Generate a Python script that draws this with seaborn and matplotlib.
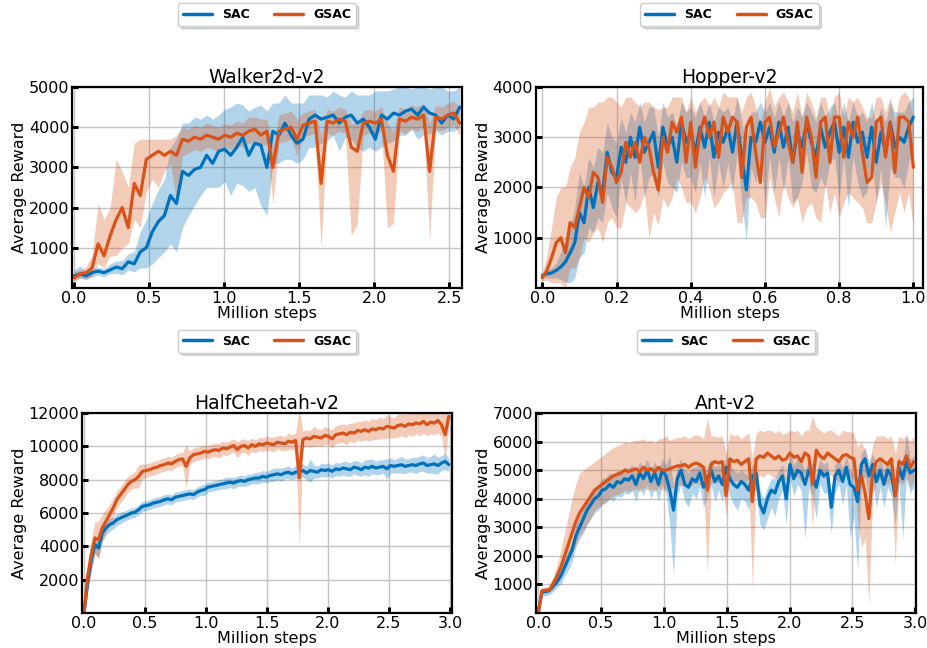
import numpy as np
import matplotlib
matplotlib.use("Agg")
import matplotlib.pyplot as plt
import seaborn as sns

# ============================================================================
# DATA
#   *_MEAN : average reward, *_DOWN / *_UP : band below / above the mean
# ============================================================================

ALGOS = ["SAC", "GSAC"]
TASKS = ["Walker2d-v2", "Hopper-v2", "HalfCheetah-v2", "Ant-v2"]

# --- Walker2d (0 .. 2.57 M steps) ---
WALKER_STEPS_MAX = 2.57
WALKER_SAC_MEAN = [
    300, 350, 300, 380, 420, 380, 450, 520, 480, 650, 600, 900, 1000,
    1400, 1650, 1800, 2300, 2100, 2900, 2800, 2950, 3000, 3300, 3100, 3400, 3450,
    3300, 3500, 3750, 3300, 3600, 3550, 3000, 3900, 3800, 4100, 3800, 3600, 3700,
    4200, 4300, 4200, 4250, 4300, 4100, 4250, 4300, 4100, 4200, 4000, 3700, 4300,
    4200, 4350, 4300, 4400, 4450, 4300, 4500, 4350, 4300, 4100, 4300, 4200, 4500,
]
WALKER_SAC_DOWN = [
    100, 100, 100, 100, 100, 100, 100, 150, 150, 200, 200, 400, 500,
    800, 900, 900, 1200, 1200, 1400, 1000, 900, 700, 800, 600, 900, 800,
    1000, 900, 1200, 900, 1100, 1500, 1200, 800, 700, 900, 600, 500, 500,
    700, 800, 600, 600, 500, 700, 500, 600, 600, 800, 500, 300, 800,
    600, 700, 500, 600, 500, 600, 700, 500, 400, 300, 400, 300, 500,
]
WALKER_SAC_UP = [
    150, 200, 100, 100, 100, 100, 150, 150, 200, 200, 300, 500, 700,
    700, 800, 900, 1200, 1600, 1200, 1300, 1300, 1200, 1000, 1100, 900, 1000,
    1200, 1100, 800, 1100, 900, 1000, 1400, 700, 800, 700, 800, 1000, 900,
    600, 500, 600, 500, 600, 700, 500, 600, 700, 600, 800, 1200, 600,
    700, 600, 700, 600, 500, 700, 500, 600, 700, 900, 600, 700, 500,
]
WALKER_GSAC_MEAN = [
    250, 350, 380, 500, 1100, 800, 1300, 1700, 2000, 1500, 2600, 2300, 3200,
    3300, 3400, 3300, 3400, 3300, 3700, 3650, 3750, 3700, 3800, 3750, 3700, 3800,
    3750, 3850, 3800, 3900, 3950, 3800, 3900, 3000, 3900, 3950, 4000, 3700, 4050,
    4100, 4150, 2600, 4150, 4100, 4200, 4150, 3500, 3400, 4100, 4150, 4100, 4200,
    3300, 2900, 4200, 4150, 4250, 4200, 4300, 2900, 4250, 4200, 4300, 4350, 4100,
]
WALKER_GSAC_DOWN = [
    100, 100, 150, 200, 500, 300, 500, 900, 1000, 400, 900, 800, 800,
    600, 900, 400, 300, 1100, 400, 300, 300, 300, 300, 300, 300, 300,
    300, 300, 300, 300, 300, 300, 300, 900, 300, 300, 300, 400, 300,
    300, 300, 1600, 300, 300, 300, 300, 2200, 1800, 300, 300, 300, 300,
    1800, 1300, 300, 300, 300, 300, 300, 1700, 300, 300, 300, 300, 300,
]
WALKER_GSAC_UP = [
    150, 100, 150, 300, 1000, 900, 700, 1500, 900, 1000, 1000, 1400, 500,
    400, 300, 400, 300, 500, 300, 300, 300, 300, 300, 300, 300, 300,
    300, 300, 300, 350, 300, 400, 300, 500, 400, 400, 400, 500, 300,
    300, 300, 1200, 300, 300, 300, 300, 600, 700, 300, 300, 300, 300,
    800, 1000, 300, 300, 300, 300, 300, 1200, 300, 300, 300, 300, 400,
]

# --- Hopper (0 .. 1.0 M steps) ---
HOPPER_STEPS_MAX = 1.0
HOPPER_SAC_MEAN = [
    250, 280, 300, 350, 420, 520, 700, 900, 1500,
    1300, 2000, 1600, 2100, 1900, 2700, 2300, 2200, 2800,
    2500, 3000, 2600, 3200, 2700, 2900, 3100, 2400, 3200,
    2800, 3000, 2500, 3300, 2900, 3100, 2700, 3200, 2800,
    3300, 2600, 3100, 2900, 3200, 2700, 3300, 2600, 1950,
    3000, 2900, 3300, 2900, 3200, 2700, 3300, 2800, 3200,
    2500, 3100, 2800, 3300, 2900, 2600, 3200, 2800, 3100,
    3300, 2700, 3200, 2600, 3300, 2900, 3100, 2600, 3200,
    2500, 3100, 2700, 3300, 2800, 3000, 2900, 3200, 3400,
]
HOPPER_SAC_DOWN = [
    50, 80, 100, 150, 250, 400, 600, 700, 900,
    600, 800, 500, 700, 600, 800, 700, 800, 600,
    800, 700, 900, 600, 900, 700, 800, 600, 700,
    700, 1000, 600, 800, 700, 900, 800, 700, 1000,
    700, 800, 600, 900, 700, 800, 600, 900, 1000,
    600, 800, 700, 1200, 600, 800, 700, 900, 600,
    800, 1300, 700, 600, 900, 700, 1000, 800, 600,
    700, 900, 600, 1000, 700, 800, 1300, 700, 600,
    800, 700, 1500, 900, 600, 800, 900, 700, 600,
]
HOPPER_SAC_UP = [
    50, 80, 100, 150, 300, 400, 500, 700, 800,
    700, 600, 800, 700, 800, 600, 700, 700, 600,
    600, 500, 700, 500, 600, 700, 500, 600, 500,
    600, 500, 700, 400, 600, 500, 700, 500, 600,
    400, 700, 500, 600, 400, 600, 500, 700, 900,
    500, 600, 400, 600, 500, 700, 400, 600, 500,
    800, 500, 600, 400, 600, 700, 500, 600, 500,
    400, 600, 500, 700, 400, 500, 400, 700, 500,
    700, 500, 600, 400, 700, 500, 600, 500, 400,
]
HOPPER_GSAC_MEAN = [
    200, 350, 600, 900, 1000, 700, 1300, 1200, 1600,
    2000, 1800, 2300, 2200, 1700, 2600, 2400, 2100, 2300,
    2900, 2600, 2900, 2500, 3000, 2800, 2300, 1950, 3000,
    2700, 3300, 3100, 3400, 2500, 3300, 2400, 3100, 3400,
    3000, 3300, 2600, 3400, 3100, 3400, 3300, 2200, 3200,
    3400, 2700, 2100, 3300, 3400, 2800, 3100, 3400, 2900,
    2500, 3300, 2300, 3400, 3000, 2200, 3300, 3400, 2500,
    3400, 3400, 2600, 3300, 3000, 3400, 2700, 2100, 2200,
    3300, 3400, 2600, 3300, 2300, 3400, 3400, 3300, 2400,
]
HOPPER_GSAC_DOWN = [
    50, 200, 500, 800, 900, 700, 900, 800, 1000,
    1000, 900, 1200, 1000, 800, 1300, 1000, 900, 1100,
    1200, 1000, 1400, 900, 1100, 1800, 800, 700, 1200,
    1100, 1500, 900, 1400, 800, 1600, 900, 1300, 1200,
    1000, 1700, 900, 1500, 1100, 1300, 2000, 900, 1400,
    1600, 1000, 700, 1900, 1200, 1000, 1700, 1300, 1100,
    900, 1500, 1000, 1800, 1300, 800, 2000, 1300, 1000,
    1500, 2000, 900, 1400, 1200, 1700, 1100, 800, 900,
    1600, 1300, 900, 2200, 800, 1500, 1900, 1400, 1200,
]
HOPPER_GSAC_UP = [
    100, 300, 600, 900, 1000, 1300, 1100, 1400, 1500,
    1300, 1800, 1300, 1500, 2000, 1200, 1400, 1600, 1300,
    900, 1200, 800, 1100, 700, 900, 1300, 1600, 600,
    900, 500, 700, 400, 1000, 500, 1100, 600, 400,
    600, 500, 1000, 500, 700, 400, 500, 1300, 600,
    500, 900, 1200, 400, 600, 800, 700, 500, 800,
    1000, 600, 1100, 500, 700, 1200, 500, 400, 900,
    400, 500, 800, 500, 700, 400, 900, 1300, 1200,
    500, 400, 900, 500, 1000, 400, 500, 500, 1000,
]

# --- HalfCheetah (0 .. 3.0 M steps), symmetric band ---
CHEETAH_STEPS_MAX = 2.99
CHEETAH_SAC_MEAN = [
    0, 1800, 3200, 4100, 3900, 4800, 5100, 5300, 5400, 5600,
    5700, 5800, 5900, 6000, 6050, 6200, 6400, 6450, 6500, 6600,
    6650, 6700, 6800, 6850, 6800, 6950, 7000, 7050, 7100, 7150,
    7100, 7250, 7350, 7400, 7550, 7600, 7650, 7700, 7750, 7800,
    7850, 7800, 7900, 7950, 7900, 8000, 8050, 8100, 8100, 8200,
    8150, 8250, 8300, 8350, 8300, 8400, 8450, 8350, 8450, 8500,
    8550, 8400, 8550, 8500, 8450, 8600, 8550, 8600, 8500, 8650,
    8600, 8700, 8650, 8600, 8750, 8700, 8600, 8750, 8700, 8800,
    8700, 8750, 8800, 8650, 8850, 8800, 8850, 8900, 8800, 8850,
    8900, 8850, 8950, 9000, 8850, 8900, 8950, 8850, 9000, 9100,
    8900,
]
CHEETAH_SAC_SPREAD = [
    100, 600, 700, 500, 600, 500, 400, 400, 350, 350,
    350, 300, 300, 300, 300, 300, 300, 300, 300, 300,
    300, 300, 300, 300, 300, 300, 300, 300, 300, 300,
    300, 300, 300, 350, 300, 300, 300, 300, 300, 350,
    300, 350, 300, 350, 300, 350, 300, 350, 350, 350,
    350, 350, 400, 350, 400, 350, 400, 350, 400, 350,
    400, 400, 700, 400, 350, 400, 400, 400, 400, 400,
    400, 400, 450, 400, 400, 450, 400, 450, 500, 450,
    400, 450, 400, 600, 450, 400, 450, 500, 450, 400,
    450, 500, 450, 500, 450, 500, 600, 500, 450, 500,
    400,
]
CHEETAH_GSAC_MEAN = [
    0, 2200, 3500, 4500, 4400, 5100, 5500, 5900, 6300, 6800,
    7100, 7400, 7700, 7900, 8000, 8200, 8500, 8550, 8600, 8700,
    8750, 8850, 8900, 9000, 8950, 9100, 9200, 9250, 8800, 9300,
    9500, 9550, 9600, 9700, 9650, 9750, 9800, 9750, 9900, 9850,
    9950, 10050, 9800, 10000, 10050, 9900, 10100, 10000, 10150, 10100,
    10200, 10150, 10100, 10250, 10200, 10150, 10300, 10250, 10350, 8100,
    10400, 10500, 10450, 10600, 10550, 10500, 10650, 10600, 10450, 10700,
    10750, 10800, 10700, 10850, 10800, 10950, 10900, 11000, 10900, 11050,
    11000, 11100, 11050, 11200, 11150, 11100, 11250, 11300, 11200, 11350,
    11300, 11400, 11350, 11500, 11300, 11450, 11400, 11550, 11300, 10700,
    11800,
]
CHEETAH_GSAC_SPREAD = [
    100, 700, 900, 1000, 1100, 800, 700, 600, 600, 500,
    500, 500, 500, 450, 500, 700, 450, 400, 400, 400,
    400, 400, 400, 400, 400, 400, 400, 400, 1300, 400,
    400, 400, 400, 400, 400, 400, 400, 450, 400, 400,
    400, 400, 500, 400, 400, 450, 400, 400, 400, 400,
    450, 400, 450, 400, 450, 400, 500, 450, 450, 4200,
    500, 500, 500, 600, 500, 500, 550, 500, 550, 550,
    550, 550, 600, 550, 600, 550, 600, 600, 600, 650,
    600, 650, 600, 700, 650, 600, 700, 650, 700, 650,
    700, 650, 700, 700, 650, 700, 700, 750, 700, 1500,
    600,
]

# --- Ant (0 .. 3.0 M steps) ---
ANT_STEPS_MAX = 2.99
ANT_SAC_MEAN = [
    0, 750, 750, 800, 950, 1100, 1300, 1600, 1900, 2200,
    2700, 3000, 3300, 3600, 3800, 4000, 4100, 4300, 4350, 4500,
    4400, 4600, 4550, 4700, 4650, 4800, 4500, 4900, 4700, 5000,
    4600, 4900, 4500, 5000, 4800, 4300, 3600, 4700, 5000, 4500,
    4400, 4700, 4600, 4900, 4400, 4700, 5000, 4600, 4800, 4500,
    5100, 4700, 4500, 4400, 4600, 4500, 4300, 4800, 4900, 3800,
    3500, 4000, 4300, 4200, 4600, 4800, 4000, 5200, 4700, 5000,
    4900, 4500, 5000, 4800, 4400, 5000, 4800, 4900, 3700, 4800,
    5000, 4600, 5100, 4500, 4400, 3900, 5200, 5400, 4800, 5200,
    4600, 5000, 4500, 5000, 4800, 4100, 5100, 4700, 5300, 4900,
    5000,
]
ANT_SAC_DOWN = [
    0, 150, 150, 150, 200, 200, 300, 300, 400, 400,
    400, 400, 500, 500, 500, 500, 500, 500, 500, 500,
    500, 500, 500, 500, 500, 500, 600, 500, 600, 500,
    600, 500, 600, 500, 600, 1200, 2300, 600, 500, 600,
    700, 500, 600, 500, 700, 600, 500, 700, 500, 600,
    500, 600, 700, 800, 600, 600, 700, 500, 600, 700,
    600, 700, 600, 800, 600, 500, 900, 500, 600, 500,
    600, 1900, 600, 700, 1100, 500, 600, 700, 900, 600,
    500, 800, 600, 1900, 1000, 2400, 700, 600, 800, 600,
    900, 600, 800, 600, 700, 1000, 500, 2100, 600, 700,
    600,
]
ANT_SAC_UP = [
    0, 100, 100, 100, 150, 200, 200, 300, 300, 300,
    400, 400, 400, 400, 400, 400, 400, 400, 400, 400,
    400, 400, 400, 400, 400, 400, 400, 400, 400, 400,
    400, 400, 500, 400, 400, 1200, 800, 400, 400, 500,
    500, 400, 500, 400, 500, 400, 400, 500, 400, 500,
    400, 500, 500, 500, 400, 400, 500, 400, 400, 500,
    500, 400, 400, 500, 400, 400, 500, 400, 500, 400,
    400, 500, 400, 400, 500, 400, 400, 400, 500, 400,
    400, 500, 400, 500, 500, 600, 400, 400, 500, 400,
    500, 400, 500, 400, 500, 600, 400, 500, 1000, 500,
    500,
]
ANT_GSAC_MEAN = [
    0, 780, 800, 820, 1050, 1300, 1600, 2000, 2400, 2800,
    3200, 3500, 3700, 3900, 4100, 4300, 4400, 4500, 4600, 4700,
    4800, 4850, 4900, 5000, 4950, 5000, 5050, 4950, 5100, 5000,
    5050, 4950, 5100, 5000, 5000, 5050, 5100, 5150, 5150, 5200,
    5100, 5200, 5250, 5200, 5100, 4300, 5200, 5300, 5250, 5300,
    4100, 5400, 5300, 5350, 5200, 5300, 5400, 3900, 5400, 5500,
    5450, 5600, 5500, 5400, 5500, 5350, 5400, 5600, 5450, 5500,
    5300, 5600, 5500, 4500, 5700, 5500, 5400, 5600, 5500, 5400,
    5300, 5500, 5550, 5450, 5400, 4300, 4800, 4200, 3300, 4900,
    5300, 5400, 5300, 5200, 5400, 4100, 5300, 5200, 5500, 5100,
    5300,
]
ANT_GSAC_DOWN = [
    0, 100, 100, 100, 200, 300, 400, 500, 600, 700,
    800, 800, 800, 800, 800, 700, 700, 700, 700, 700,
    700, 700, 700, 700, 700, 700, 700, 700, 700, 700,
    700, 700, 700, 700, 700, 700, 700, 700, 700, 700,
    700, 700, 700, 700, 700, 2900, 700, 700, 700, 700,
    700, 700, 700, 700, 700, 700, 700, 3000, 700, 700,
    700, 700, 700, 700, 700, 700, 700, 700, 700, 700,
    700, 700, 700, 1500, 700, 700, 700, 700, 700, 700,
    700, 700, 700, 700, 700, 1000, 2500, 1600, 3000, 800,
    700, 700, 700, 700, 700, 2400, 700, 700, 700, 700,
    700,
]
ANT_GSAC_UP = [
    0, 100, 100, 100, 200, 400, 600, 800, 1000, 1200,
    1300, 1400, 1300, 1200, 1100, 1000, 1000, 1000, 1000, 1000,
    1000, 1000, 1000, 1000, 1000, 1000, 1000, 1100, 1000, 1000,
    1000, 1000, 1000, 1100, 1200, 1000, 1000, 1000, 1000, 1000,
    1000, 1000, 1000, 1000, 1000, 2500, 1000, 900, 900, 900,
    1500, 900, 900, 900, 900, 900, 900, 1500, 900, 900,
    900, 800, 900, 900, 900, 900, 900, 800, 900, 900,
    900, 800, 900, 2400, 800, 900, 900, 800, 900, 900,
    900, 900, 800, 900, 900, 1500, 1200, 1500, 1800, 1000,
    900, 800, 900, 900, 800, 1500, 900, 900, 700, 900,
    900,
]

# ============================================================================
# STYLE
# ============================================================================

SAC_COLOR = "#0072BD"
GSAC_COLOR = "#D95319"

sns.set_style("whitegrid", {"axes.edgecolor": "black", "grid.color": "#c4c4c4"})
plt.rcParams["font.family"] = ["DejaVu Sans"]
plt.rcParams["axes.linewidth"] = 1.6
plt.rcParams["text.color"] = "black"
plt.rcParams["axes.labelcolor"] = "black"
plt.rcParams["xtick.color"] = "black"
plt.rcParams["ytick.color"] = "black"

fig = plt.figure(figsize=(9.27, 6.48), dpi=100)


def draw_panel(rect, title, steps_max, sac, gsac, xlim, ylim, xticks, yticks):
    ax = fig.add_axes(rect)
    for name, (mean, down, up), color in zip(ALGOS, [sac, gsac], [SAC_COLOR, GSAC_COLOR]):
        mean = np.asarray(mean, dtype=float)
        steps = np.linspace(0, steps_max, len(mean))
        ax.fill_between(steps, mean - np.asarray(down), mean + np.asarray(up),
                        color=color, alpha=0.3, linewidth=0)
        sns.lineplot(x=steps, y=mean, ax=ax, color=color, linewidth=2.3, label=name)

    ax.set_xlim(*xlim)
    ax.set_ylim(*ylim)
    ax.set_xticks(xticks)
    ax.set_yticks(yticks)
    ax.set_title(title, fontsize=13.5, pad=3, color="black")
    ax.set_xlabel("Million steps", fontsize=11.5, labelpad=0)
    ax.set_ylabel("Average Reward", fontsize=11.5, labelpad=1)
    ax.tick_params(direction="in", length=4, width=2.2, colors="black",
                   labelsize=11.5, pad=2, left=True, bottom=True)
    ax.grid(True, linewidth=1.0)

    leg = ax.legend(loc="center", bbox_to_anchor=(0.5, 1.36), ncol=2,
                    prop={"weight": "bold", "size": 9}, frameon=True,
                    fancybox=True, shadow={"color": "0.6", "alpha": 0.35},
                    handlelength=2.3, handletextpad=0.8, columnspacing=2.0,
                    borderpad=0.4)
    leg.get_frame().set_edgecolor("#cccccc")
    for txt in leg.get_texts():
        txt.set_color("black")
    for line in leg.get_lines():
        line.set_linewidth(2.5)
    return ax


draw_panel([0.0777, 0.5556, 0.4207, 0.3102], TASKS[0], WALKER_STEPS_MAX,
           (WALKER_SAC_MEAN, WALKER_SAC_DOWN, WALKER_SAC_UP),
           (WALKER_GSAC_MEAN, WALKER_GSAC_DOWN, WALKER_GSAC_UP),
           (-0.013, 2.585), (0, 5000), np.arange(0, 2.6, 0.5), [1000, 2000, 3000, 4000, 5000])

draw_panel([0.5782, 0.5556, 0.4175, 0.3102], TASKS[1], HOPPER_STEPS_MAX,
           (HOPPER_SAC_MEAN, HOPPER_SAC_DOWN, HOPPER_SAC_UP),
           (HOPPER_GSAC_MEAN, HOPPER_GSAC_DOWN, HOPPER_GSAC_UP),
           (-0.017, 1.026), (0, 4000), np.arange(0, 1.01, 0.2), [1000, 2000, 3000, 4000])

draw_panel([0.0885, 0.0540, 0.3991, 0.3086], TASKS[2], CHEETAH_STEPS_MAX,
           (CHEETAH_SAC_MEAN, CHEETAH_SAC_SPREAD, CHEETAH_SAC_SPREAD),
           (CHEETAH_GSAC_MEAN, CHEETAH_GSAC_SPREAD, CHEETAH_GSAC_SPREAD),
           (-0.016, 3.016), (0, 12000), np.arange(0, 3.01, 0.5),
           [2000, 4000, 6000, 8000, 10000, 12000])

draw_panel([0.5782, 0.0540, 0.4099, 0.3086], TASKS[3], ANT_STEPS_MAX,
           (ANT_SAC_MEAN, ANT_SAC_DOWN, ANT_SAC_UP),
           (ANT_GSAC_MEAN, ANT_GSAC_DOWN, ANT_GSAC_UP),
           (-0.018, 3.006), (0, 7000), np.arange(0, 3.01, 0.5),
           [1000, 2000, 3000, 4000, 5000, 6000, 7000])

fig.savefig("out.png", dpi=100)
print("saved out.png")
